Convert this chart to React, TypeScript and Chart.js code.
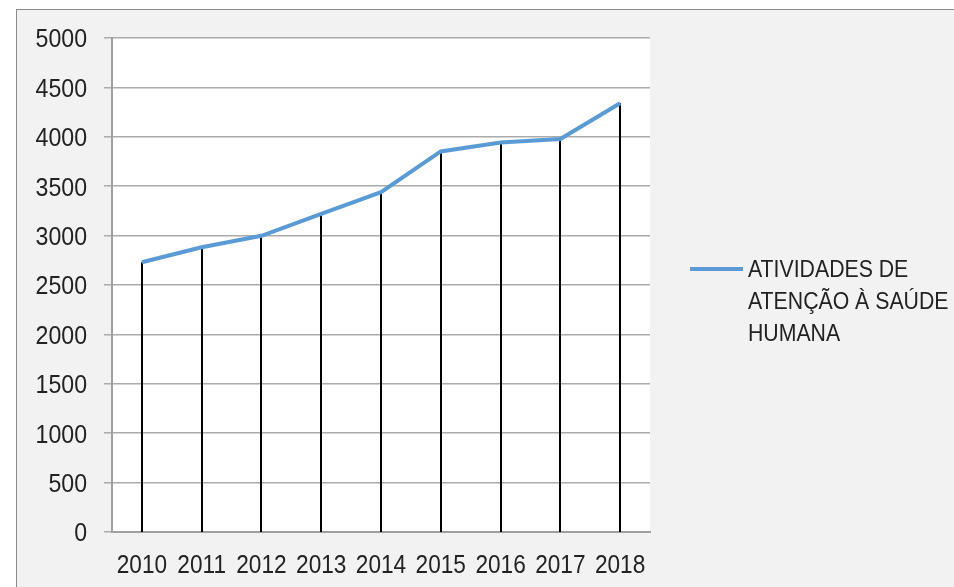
import React, { useEffect, useRef } from 'react';
import { Chart, registerables } from 'chart.js';

Chart.register(...registerables);

const categories = ['2010', '2011', '2012', '2013', '2014', '2015', '2016', '2017', '2018'];
const values = [2730, 2882, 2998, 3219, 3440, 3852, 3942, 3977, 4339];
const seriesLabel = 'ATIVIDADES DE ATENÇÃO À SAÚDE HUMANA';
const legendLines = ['ATIVIDADES DE', 'ATENÇÃO À SAÚDE', 'HUMANA'];
const yMin = 0;
const yMax = 5000;
const yStep = 500;

const FONT = "'Liberation Sans', Arial, sans-serif";
const TEXT = '#222222';
const LINE = '#5b9bd5';

const plotBg = {
  id: 'plotBg',
  beforeDraw(chart: any) {
    const { ctx, chartArea } = chart;
    ctx.save();
    ctx.fillStyle = '#ffffff';
    ctx.fillRect(chartArea.left, chartArea.top, chartArea.right - chartArea.left, chartArea.bottom - chartArea.top);
    ctx.restore();
  },
};

const dropLines = {
  id: 'dropLines',
  beforeDatasetsDraw(chart: any) {
    const { ctx, chartArea } = chart;
    const meta = chart.getDatasetMeta(0);
    ctx.save();
    ctx.strokeStyle = '#000000';
    ctx.lineWidth = 2;
    meta.data.forEach((el: any) => {
      ctx.beginPath();
      ctx.moveTo(Math.round(el.x), el.y);
      ctx.lineTo(Math.round(el.x), chartArea.bottom);
      ctx.stroke();
    });
    ctx.restore();
  },
};

function narrowText(ctx: any, text: string, x: number, y: number, sx: number, align: string) {
  ctx.save();
  ctx.translate(x, y);
  ctx.scale(sx, 1);
  ctx.textAlign = align;
  ctx.textBaseline = 'alphabetic';
  ctx.fillText(text, 0, 0);
  ctx.restore();
}

const tickLabels = {
  id: 'tickLabels',
  afterDraw(chart: any) {
    const { ctx, chartArea, scales } = chart;
    ctx.save();
    ctx.fillStyle = TEXT;
    ctx.font = `26px ${FONT}`;
    const ys = scales.y;
    ys.ticks.forEach((t: any) => {
      const y = ys.getPixelForValue(t.value);
      narrowText(ctx, String(t.value), chartArea.left - 25, y + 9.3, 0.89, 'right');
    });
    const xs = scales.x;
    xs.ticks.forEach((t: any, i: number) => {
      const x = xs.getPixelForValue(t.value);
      narrowText(ctx, String(xs.getLabelForValue(t.value)), x, chartArea.bottom + 41, 0.87, 'center');
    });
    ctx.restore();
  },
};

const customLegend = {
  id: 'customLegend',
  afterDraw(chart: any) {
    const { ctx, chartArea } = chart;
    const x0 = chartArea.right + 40;
    const yLine = 259;
    ctx.save();
    ctx.strokeStyle = LINE;
    ctx.lineWidth = 4;
    ctx.beginPath();
    ctx.moveTo(x0, yLine);
    ctx.lineTo(x0 + 53, yLine);
    ctx.stroke();
    ctx.fillStyle = TEXT;
    ctx.font = `24px ${FONT}`;
    legendLines.forEach((t, i) => {
      narrowText(ctx, t, x0 + 58, 267 + i * 32, 0.886, 'left');
    });
    ctx.restore();
  },
};

export default function App() {
  const ref = useRef<HTMLCanvasElement>(null);
  useEffect(() => {
    const chart = new Chart(ref.current as HTMLCanvasElement, {
      type: 'line',
      data: {
        labels: categories,
        datasets: [
          {
            label: seriesLabel,
            data: values,
            borderColor: LINE,
            backgroundColor: LINE,
            borderWidth: 4,
            pointRadius: 0,
            tension: 0,
            fill: false,
          },
        ],
      },
      options: {
        animation: false,
        responsive: false,
        layout: { padding: { left: 0, top: 28, right: 304, bottom: 0 } },
        plugins: {
          legend: { display: false },
          title: { display: false },
          tooltip: { enabled: false },
        },
        scales: {
          x: {
            type: 'category',
            offset: true,
            grid: { display: false, drawTicks: false },
            border: { display: true, color: '#a0a0a0', width: 2 },
            ticks: { display: false, autoSkip: false },
            afterFit: (s: any) => { s.height = 55; },
          },
          y: {
            min: yMin,
            max: yMax,
            ticks: { stepSize: yStep, display: false },
            grid: { color: '#ababab', lineWidth: 1.5, tickLength: 8, drawTicks: true },
            border: { color: '#a0a0a0', width: 2 },
            afterFit: (s: any) => { s.width = 95; },
          },
        },
      } as any,
      plugins: [plotBg, dropLines, tickLabels, customLegend],
    });
    return () => chart.destroy();
  }, []);
  return (
    <div style={{ position: 'fixed', left: 0, top: 0, width: 954, height: 587, background: '#ffffff', overflow: 'hidden' }}>
      <div
        style={{
          position: 'absolute',
          left: 16,
          top: 9,
          width: 960,
          height: 600,
          borderLeft: '1px solid #8c8c8c',
          borderTop: '1px solid #8c8c8c',
          background: '#f2f2f2',
        }}
      >
        <canvas ref={ref} width={937} height={577} style={{ position: 'absolute', left: 0, top: 0 }} />
      </div>
    </div>
  );
}
